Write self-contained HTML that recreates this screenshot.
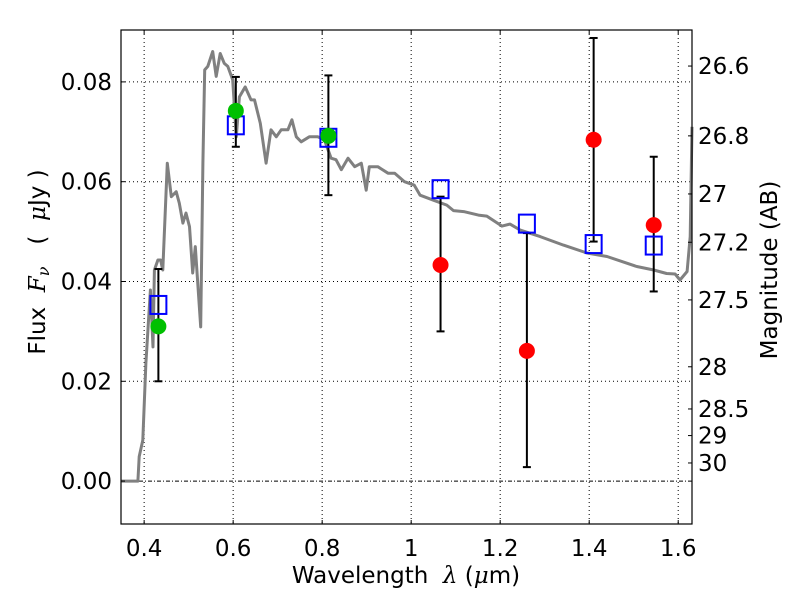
<!DOCTYPE html>
<html><head><meta charset="utf-8"><style>
body{margin:0;background:#fff;}
svg{display:block;font-family:"DejaVu Sans","Liberation Sans",sans-serif;}
</style></head><body>
<svg id="chart" width="800" height="600" viewBox="0 0 800 600" xmlns="http://www.w3.org/2000/svg">
<rect x="0" y="0" width="800" height="600" fill="#fff"/>
<g id="grid"></g>
<g id="series"></g>
<g id="axes"></g>
</svg>
<script>
const xTicks=[0.4,0.6,0.8,1.0,1.2,1.4,1.6];
const xTickLabels=["0.4","0.6","0.8","1","1.2","1.4","1.6"];
const yTicks=[0,0.02,0.04,0.06,0.08];
const yTickLabels=["0.00","0.02","0.04","0.06","0.08"];
const magTicks=[26.6,26.8,27,27.2,27.5,28,28.5,29,30];
const magTickLabels=["26.6","26.8","27","27.2","27.5","28","28.5","29","30"];
const sedWave=[0.348,0.386,0.389,0.397,0.404,0.414,0.420,0.423,0.431,0.437,0.442,0.452,0.461,0.472,0.479,0.487,0.494,0.502,0.509,0.515,0.527,0.532,0.536,0.543,0.554,0.562,0.571,0.580,0.588,0.599,0.607,0.614,0.627,0.640,0.648,0.661,0.674,0.685,0.697,0.708,0.723,0.732,0.742,0.753,0.771,0.790,0.805,0.820,0.831,0.843,0.858,0.873,0.888,0.899,0.906,0.925,0.948,0.963,0.985,1.007,1.020,1.050,1.080,1.095,1.118,1.151,1.170,1.204,1.222,1.245,1.290,1.342,1.395,1.440,1.507,1.545,1.574,1.593,1.604,1.620,1.627,1.631];
const sedFlux=[0,0,0.0049,0.0082,0.0237,0.0383,0.0269,0.0423,0.0443,0.0443,0.0423,0.0637,0.057,0.058,0.0557,0.0517,0.0537,0.051,0.0417,0.047,0.0309,0.0637,0.0824,0.0831,0.0861,0.0811,0.0857,0.0837,0.0831,0.0804,0.069,0.077,0.079,0.0764,0.0764,0.0717,0.0637,0.0704,0.069,0.0704,0.0704,0.0724,0.069,0.068,0.069,0.069,0.0684,0.0647,0.0644,0.0624,0.0647,0.063,0.0637,0.0583,0.063,0.063,0.0617,0.0617,0.060,0.0593,0.0573,0.0563,0.0553,0.0542,0.054,0.0533,0.0531,0.0511,0.0515,0.0503,0.049,0.0473,0.0457,0.045,0.043,0.0423,0.0416,0.0415,0.0403,0.042,0.049,0.071];
const errWave=[0.432,0.606,0.814,1.066,1.26,1.41,1.545];
const errLow=[0.020,0.067,0.0573,0.030,0.0028,0.048,0.038];
const errHigh=[0.0425,0.081,0.0813,0.057,0.0497,0.0888,0.065];
const modelWave=[0.432,0.606,0.814,1.066,1.26,1.41,1.545];
const modelFlux=[0.0353,0.0713,0.0688,0.0585,0.0516,0.0475,0.0472];
const greenWave=[0.432,0.606,0.814];
const greenFlux=[0.031,0.0742,0.0692];
const redWave=[1.066,1.26,1.41,1.545];
const redFlux=[0.0433,0.0261,0.0684,0.0513];

const L=121,R=692,T=30,B=524;
const xMin=0.348,xMax=1.631,yMin=-0.0086,yMax=0.0904;
const X=v=>L+(v-xMin)/(xMax-xMin)*(R-L);
const Y=v=>B-(v-yMin)/(yMax-yMin)*(B-T);
const magToFlux=m=>Math.pow(10,(23.9-m)/2.5);
const NS="http://www.w3.org/2000/svg";
function mk(tag,attrs,parent){const e=document.createElementNS(NS,tag);for(const k in attrs)e.setAttribute(k,attrs[k]);parent.appendChild(e);return e;}
const grid=document.getElementById('grid'),ser=document.getElementById('series'),ax=document.getElementById('axes');
const FS=23;

xTicks.forEach((t,i)=>{
  const g=mk('line',{x1:X(t),x2:X(t),y1:T,y2:B,stroke:'#000','stroke-width':1,'stroke-dasharray':'1,3'},grid);
  
  
  mk('line',{x1:X(t),x2:X(t),y1:B,y2:B-4,stroke:'#000'},ax);
  mk('line',{x1:X(t),x2:X(t),y1:T,y2:T+4,stroke:'#000'},ax);
  const lb=mk('text',{x:X(t),y:B+32,'font-size':FS,'text-anchor':'middle'},ax);
  lb.textContent=xTickLabels[i];
  
  
});
yTicks.forEach((t,i)=>{
  if(t!==0){
    const g=mk('line',{x1:L,x2:R,y1:Y(t),y2:Y(t),stroke:'#000','stroke-width':1,'stroke-dasharray':'1,3'},grid);
    
    
  }
  mk('line',{x1:L,x2:L+4,y1:Y(t),y2:Y(t),stroke:'#000'},ax);
  const lb=mk('text',{x:L-9,y:Y(t)+8,'font-size':FS,'text-anchor':'end'},ax);
  lb.textContent=yTickLabels[i];
  
  
});
const zl=mk('line',{x1:L,x2:R,y1:Y(0),y2:Y(0),stroke:'#000','stroke-width':1,'stroke-dasharray':'4,2,1,2'},grid);


magTicks.forEach((m,i)=>{
  const y=Y(magToFlux(m));
  mk('line',{x1:R,x2:R-4,y1:y,y2:y,stroke:'#000'},ax);
  const lb=mk('text',{x:R+6,y:y+8,'font-size':FS,'text-anchor':'start'},ax);
  lb.textContent=magTickLabels[i];
  
  
});

const pts=sedWave.map((w,i)=>X(w).toFixed(1)+','+Y(sedFlux[i]).toFixed(1)).join(' ');
const sed=mk('polyline',{points:pts,fill:'none',stroke:'#808080','stroke-width':3,'stroke-linejoin':'round'},ser);



errWave.forEach((w,i)=>{
  const x=X(w),y1=Y(errLow[i]),y2=Y(errHigh[i]);
  const g=mk('g',{},ser);
  
  
  mk('line',{x1:x,x2:x,y1:y1,y2:y2,stroke:'#000','stroke-width':2},g);
  mk('line',{x1:x-4,x2:x+4,y1:y1,y2:y1,stroke:'#000','stroke-width':2},g);
  mk('line',{x1:x-4,x2:x+4,y1:y2,y2:y2,stroke:'#000','stroke-width':2},g);
});
modelWave.forEach((w,i)=>{
  const s=mk('rect',{x:X(w)-8,y:Y(modelFlux[i])-9,width:16,height:18,fill:'none',stroke:'#0000ff','stroke-width':2},ser);
  
  
});
greenWave.forEach((w,i)=>{
  const c=mk('circle',{cx:X(w),cy:Y(greenFlux[i]),r:8,fill:'#00c000'},ser);
  
  
});
redWave.forEach((w,i)=>{
  const c=mk('circle',{cx:X(w),cy:Y(redFlux[i]),r:8,fill:'#ff0000'},ser);
  
  
});

const fr=mk('rect',{x:L,y:T,width:R-L,height:B-T,fill:'none',stroke:'#000','stroke-width':1.2},ax);


</script>
<svg style="position:absolute;left:0;top:0" width="800" height="600">
<text x="406" y="583" font-size="23" text-anchor="middle" font-family="DejaVu Sans,sans-serif" xml:space="preserve">Wavelength  <tspan font-style="italic" font-family="DejaVu Serif,serif">λ</tspan> (<tspan font-style="italic" font-family="DejaVu Serif,serif">μ</tspan>m)</text>
<text transform="translate(45,262) rotate(-90)" font-size="23" text-anchor="middle" font-family="DejaVu Sans,sans-serif" xml:space="preserve">Flux  <tspan font-style="italic" font-family="DejaVu Serif,serif">F<tspan font-size="16" dy="4">ν</tspan></tspan><tspan dy="-4">   (  </tspan><tspan font-style="italic" font-family="DejaVu Serif,serif">μ</tspan>Jy )</text>
<text transform="translate(777,270) rotate(-90)" font-size="23" text-anchor="middle" font-family="DejaVu Sans,sans-serif">Magnitude (AB)</text>
</svg>
</body></html>
